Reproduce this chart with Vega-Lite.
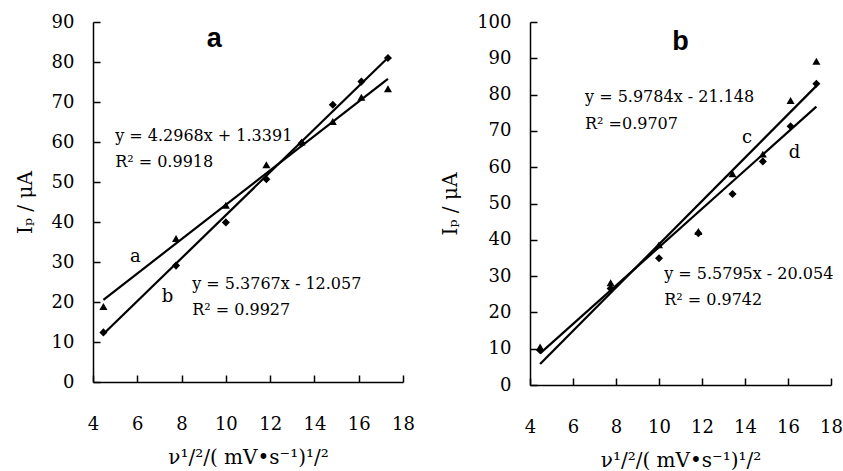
{
  "$schema": "https://vega.github.io/schema/vega-lite/v6.json",
  "background": "white",
  "padding": {"left": 15, "top": 13, "right": 0, "bottom": 5},
  "spacing": 25,
  "config": {
    "view": {"stroke": null},
    "font": "DejaVu Serif",
    "axis": {
      "grid": false,
      "labelFont": "DejaVu Serif",
      "labelFontSize": 18,
      "labelColor": "black",
      "labelFlush": false,
      "labelOverlap": false,
      "domainColor": "black",
      "domainWidth": 1.5,
      "tickColor": "black",
      "tickWidth": 1.5,
      "tickSize": -7,
      "titleFont": "DejaVu Serif",
      "titleFontSize": 20,
      "titleFontWeight": "normal",
      "titleColor": "black"
    },
    "axisX": {"labelPadding": 40, "titlePadding": 14},
    "axisY": {"labelPadding": 26, "titlePadding": 16}
  },
  "datasets": {
    "pa": [
      {"series": "a", "x": 4.47, "y": 18.9},
      {"series": "a", "x": 7.75, "y": 35.9},
      {"series": "a", "x": 10.0, "y": 44.2},
      {"series": "a", "x": 11.83, "y": 54.3},
      {"series": "a", "x": 13.42, "y": 60.0},
      {"series": "a", "x": 14.83, "y": 65.1},
      {"series": "a", "x": 16.12, "y": 71.2},
      {"series": "a", "x": 17.32, "y": 73.3},
      {"series": "b", "x": 4.47, "y": 12.4},
      {"series": "b", "x": 7.75, "y": 29.1},
      {"series": "b", "x": 10.0, "y": 39.9},
      {"series": "b", "x": 11.83, "y": 50.7},
      {"series": "b", "x": 13.42, "y": 59.7},
      {"series": "b", "x": 14.83, "y": 69.3},
      {"series": "b", "x": 16.12, "y": 75.1},
      {"series": "b", "x": 17.32, "y": 81.0}
    ],
    "la": [
      {"series": "a", "x": 4.47, "y": 20.55},
      {"series": "a", "x": 17.32, "y": 75.76},
      {"series": "b", "x": 4.47, "y": 11.98},
      {"series": "b", "x": 17.32, "y": 81.07}
    ],
    "ta": [
      {"kind": "eq", "x": 5.0, "y": 61.5, "text": "y = 4.2968x + 1.3391"},
      {"kind": "eq", "x": 5.0, "y": 55.0, "text": "R² = 0.9918"},
      {"kind": "eq", "x": 8.48, "y": 24.5, "text": "y = 5.3767x - 12.057"},
      {"kind": "eq", "x": 8.48, "y": 18.0, "text": "R² = 0.9927"},
      {"kind": "lab", "x": 5.91, "y": 31.2, "text": "a"},
      {"kind": "lab", "x": 7.36, "y": 21.2, "text": "b"},
      {"kind": "title", "x": 9.48, "y": 85.7, "text": "a"}
    ],
    "pb": [
      {"series": "c", "x": 4.47, "y": 10.5},
      {"series": "c", "x": 7.75, "y": 28.2},
      {"series": "c", "x": 10.0, "y": 38.6},
      {"series": "c", "x": 11.83, "y": 42.3},
      {"series": "c", "x": 13.42, "y": 58.2},
      {"series": "c", "x": 14.83, "y": 63.6},
      {"series": "c", "x": 16.12, "y": 78.4},
      {"series": "c", "x": 17.32, "y": 89.2},
      {"series": "d", "x": 4.47, "y": 9.6},
      {"series": "d", "x": 7.75, "y": 26.6},
      {"series": "d", "x": 10.0, "y": 34.9},
      {"series": "d", "x": 11.83, "y": 41.8},
      {"series": "d", "x": 13.42, "y": 52.6},
      {"series": "d", "x": 14.83, "y": 61.6},
      {"series": "d", "x": 16.12, "y": 71.3},
      {"series": "d", "x": 17.32, "y": 83.0}
    ],
    "lb": [
      {"series": "c", "x": 4.47, "y": 5.8},
      {"series": "c", "x": 17.32, "y": 82.4},
      {"series": "d", "x": 4.47, "y": 8.7},
      {"series": "d", "x": 17.32, "y": 76.7}
    ],
    "tb": [
      {"kind": "eq", "x": 6.56, "y": 79.3, "text": "y = 5.9784x - 21.148"},
      {"kind": "eq", "x": 6.56, "y": 72.0, "text": "R² =0.9707"},
      {"kind": "eq", "x": 10.24, "y": 30.6, "text": "y = 5.5795x - 20.054"},
      {"kind": "eq", "x": 10.24, "y": 23.3, "text": "R² = 0.9742"},
      {"kind": "lab", "x": 14.1, "y": 68.0, "text": "c"},
      {"kind": "lab", "x": 16.3, "y": 64.0, "text": "d"},
      {"kind": "title", "x": 11.0, "y": 94.5, "text": "b"}
    ]
  },
  "hconcat": [
    {
      "width": 310,
      "height": 360,
      "encoding": {
        "x": {"field": "x", "type": "quantitative", "scale": {"domain": [4, 18], "nice": false, "zero": false},
              "axis": {"values": [4, 6, 8, 10, 12, 14, 16, 18], "title": "ν¹/²/( mV•s⁻¹)¹/²"}},
        "y": {"field": "y", "type": "quantitative", "scale": {"domain": [0, 90], "nice": false},
              "axis": {"values": [0, 10, 20, 30, 40, 50, 60, 70, 80, 90], "title": "Iₚ / μA"}}
      },
      "layer": [
        {"data": {"name": "la"}, "mark": {"type": "line", "color": "black", "strokeWidth": 2.2},
         "encoding": {"detail": {"field": "series"}}},
        {"data": {"name": "pa"}, "mark": {"type": "point", "filled": true, "color": "black", "opacity": 1, "size": 65},
         "encoding": {"shape": {"field": "series", "type": "nominal",
                                "scale": {"domain": ["a", "b"], "range": ["triangle-up", "diamond"]}, "legend": null}}},
        {"data": {"name": "ta"}, "transform": [{"filter": "datum.kind === 'eq'"}],
         "mark": {"type": "text", "align": "left", "baseline": "middle", "font": "DejaVu Serif", "fontSize": 16, "color": "black"},
         "encoding": {"text": {"field": "text"}}},
        {"data": {"name": "ta"}, "transform": [{"filter": "datum.kind === 'lab'"}],
         "mark": {"type": "text", "align": "center", "baseline": "middle", "font": "DejaVu Serif", "fontSize": 18, "color": "black"},
         "encoding": {"text": {"field": "text"}}},
        {"data": {"name": "ta"}, "transform": [{"filter": "datum.kind === 'title'"}],
         "mark": {"type": "text", "align": "center", "baseline": "middle", "font": "Liberation Sans", "fontWeight": "bold", "fontSize": 27, "color": "black"},
         "encoding": {"text": {"field": "text"}}}
      ]
    },
    {
      "width": 301,
      "height": 363,
      "encoding": {
        "x": {"field": "x", "type": "quantitative", "scale": {"domain": [4, 18], "nice": false, "zero": false},
              "axis": {"values": [4, 6, 8, 10, 12, 14, 16, 18], "title": "ν¹/²/( mV•s⁻¹)¹/²"}},
        "y": {"field": "y", "type": "quantitative", "scale": {"domain": [0, 100], "nice": false},
              "axis": {"values": [0, 10, 20, 30, 40, 50, 60, 70, 80, 90, 100], "title": "Iₚ / μA"}}
      },
      "layer": [
        {"data": {"name": "lb"}, "mark": {"type": "line", "color": "black", "strokeWidth": 2.2},
         "encoding": {"detail": {"field": "series"}}},
        {"data": {"name": "pb"}, "mark": {"type": "point", "filled": true, "color": "black", "opacity": 1, "size": 65},
         "encoding": {"shape": {"field": "series", "type": "nominal",
                                "scale": {"domain": ["c", "d"], "range": ["square", "diamond"]}, "legend": null}}},
        {"data": {"name": "tb"}, "transform": [{"filter": "datum.kind === 'eq'"}],
         "mark": {"type": "text", "align": "left", "baseline": "middle", "font": "DejaVu Serif", "fontSize": 16, "color": "black"},
         "encoding": {"text": {"field": "text"}}},
        {"data": {"name": "tb"}, "transform": [{"filter": "datum.kind === 'lab'"}],
         "mark": {"type": "text", "align": "center", "baseline": "middle", "font": "DejaVu Serif", "fontSize": 18, "color": "black"},
         "encoding": {"text": {"field": "text"}}},
        {"data": {"name": "tb"}, "transform": [{"filter": "datum.kind === 'title'"}],
         "mark": {"type": "text", "align": "center", "baseline": "middle", "font": "Liberation Sans", "fontWeight": "bold", "fontSize": 27, "color": "black"},
         "encoding": {"text": {"field": "text"}}}
      ]
    }
  ]
}
